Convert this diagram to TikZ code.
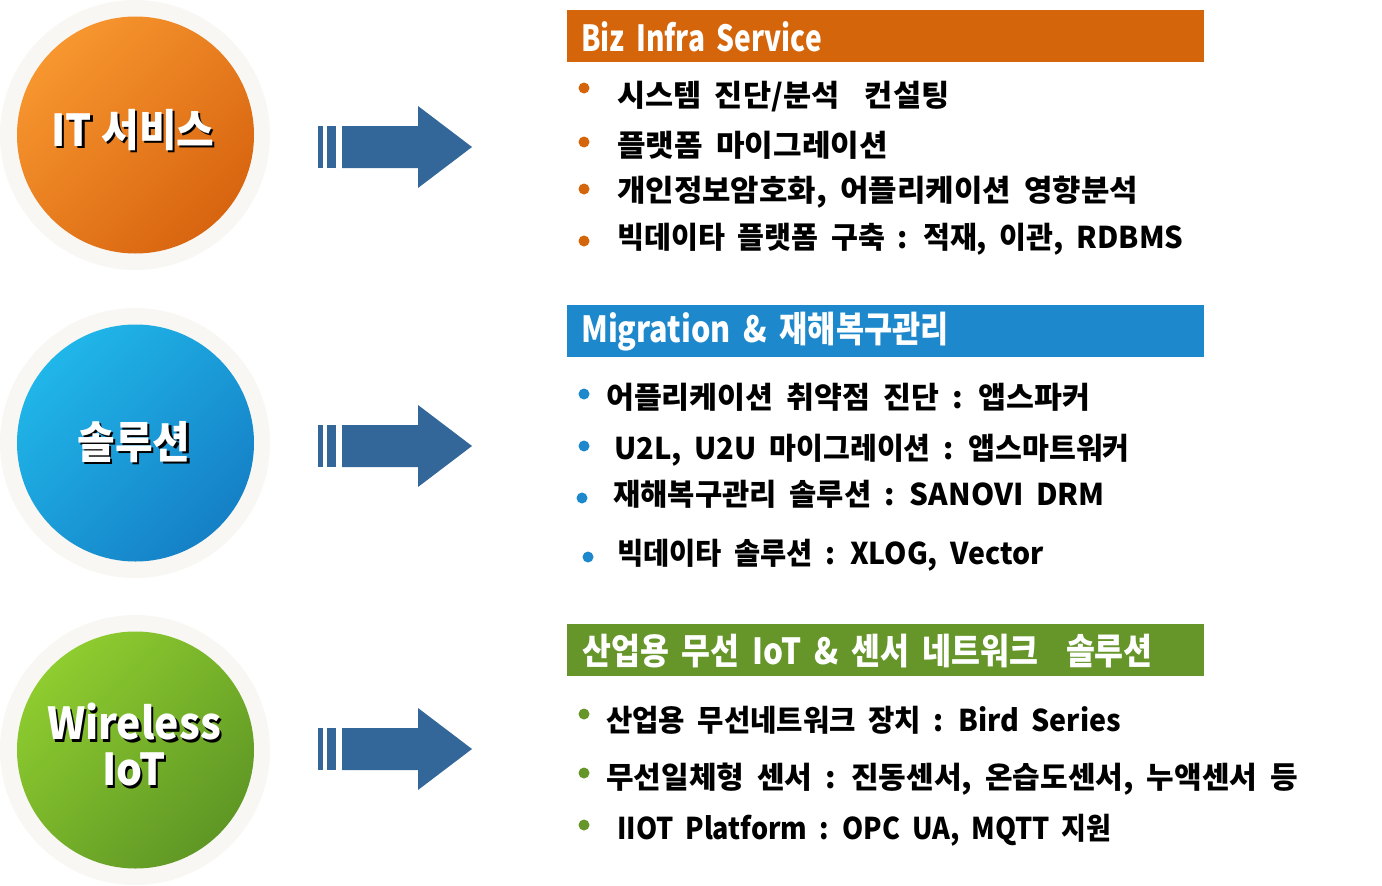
\documentclass[tikz,border=0pt]{standalone}
\usepackage{fontspec}
\usepackage{graphicx}
\newfontfamily\kr[WordSpace=1.9]{Noto Sans CJK KR}
\newfontfamily\krhead[FakeStretch=0.85,WordSpace=1.8]{Noto Sans CJK KR}
\newfontfamily\krtitle[FakeStretch=0.93]{Noto Sans CJK KR}
\newcommand\hsx[2]{\scalebox{#1}[1]{#2}}
\definecolor{halo}{HTML}{F8F7F3}
\definecolor{orL}{HTML}{F7962F}
\definecolor{orD}{HTML}{D8640F}
\definecolor{orBar}{HTML}{D4650A}
\definecolor{blL}{HTML}{20B6E9}
\definecolor{blD}{HTML}{1580C6}
\definecolor{blBar}{HTML}{1E88CC}
\definecolor{grL}{HTML}{8ECC2F}
\definecolor{grD}{HTML}{5F9725}
\definecolor{grBar}{HTML}{66962A}
\definecolor{arrowblue}{HTML}{336699}
\tikzset{
  halobox/.style={circle, fill=halo, minimum size=270pt, inner sep=0pt},
  ball/.style={circle, minimum size=237pt, inner sep=0pt},
  bar/.style={minimum width=637pt, minimum height=52pt, inner sep=0pt, anchor=north west},
  headtext/.style={anchor=west, inner sep=0pt, text=white, font=\krhead\bfseries\fontsize{36}{40}\selectfont},
  item/.style={anchor=west, inner sep=0pt, font=\kr\bfseries\fontsize{30}{34}\selectfont},
  bulletdot/.style={circle, inner sep=0pt, minimum size=11pt},
  title/.style={font=\krtitle\bfseries\fontsize{44}{46}\selectfont, text=white, align=center, inner sep=0pt},
  shadowtitle/.style={title, text=black, xshift=2.2pt, yshift=-2.2pt},
  blockarrow/.style={fill=arrowblue}
}
\begin{document}
\begin{tikzpicture}[x=1pt,y=-1pt]
\useasboundingbox (0,0) rectangle (1382,886);

% ---- circles
\node[halobox] (h1) at (135,135) {};
\node[ball, top color=orL, bottom color=orD, shading angle=45] (c1) at (135.5,135) {};
\node[halobox] (h2) at (135,443) {};
\node[ball, top color=blL, bottom color=blD, shading angle=45] (c2) at (135.5,443) {};
\node[halobox] (h3) at (135,750) {};
\node[ball, top color=grL, bottom color=grD, shading angle=45] (c3) at (135.5,750) {};

\node[shadowtitle] at (133,130) {IT 서비스};
\node[title] (t1) at (133,130) {IT 서비스};
\node[shadowtitle] at (134,442) {솔루션};
\node[title] (t2) at (134,442) {솔루션};
\node[shadowtitle] at (134,745) {Wireless\\IoT};
\node[title] (t3) at (134,745) {Wireless\\IoT};

% ---- arrows
\foreach \cy in {147,446,749} {
  \fill[blockarrow] (318,\cy-21) rectangle (323,\cy+21);
  \fill[blockarrow] (327,\cy-21) rectangle (336,\cy+21);
  \fill[blockarrow] (342,\cy-21) -- (418,\cy-21) -- (418,\cy-41) -- (472,\cy) -- (418,\cy+41) -- (418,\cy+21) -- (342,\cy+21) -- cycle;
}

% ---- header bars
\node[bar, fill=orBar] (b1) at (567,10) {};
\node[headtext] (bt1) at (581,37) {\hsx{0.92}{Biz Infra Service}};
\node[bar, fill=blBar] (b2) at (567,305) {};
\node[headtext] (bt2) at (581,332) {Migration \& 재해복구관리};
\node[bar, fill=grBar] (b3) at (567,624) {};
\node[headtext] (bt3) at (582,651) {\hsx{1.027}{산업용 무선 IoT \& 센서 네트워크\hspace{0.4em} 솔루션}};

% ---- section 1 items
\node[bulletdot, fill=orBar] (d11) at (584,88) {};
\node[item] (i11) at (617,97) {\hsx{1.02}{시스템 진단/분석\hspace{0.4em} 컨설팅}};
\node[bulletdot, fill=orBar] (d12) at (584,142) {};
\node[item] (i12) at (617,145) {\hsx{1.035}{플랫폼 마이그레이션}};
\node[bulletdot, fill=orBar] (d13) at (584,189) {};
\node[item] (i13) at (617,192) {\hsx{1.03}{개인정보암호화, 어플리케이션 영향분석}};
\node[bulletdot, fill=orBar] (d14) at (584,241) {};
\node[item] (i14) at (617,239) {\hsx{0.976}{빅데이타 플랫폼 구축 : 적재, 이관, RDBMS}};

% ---- section 2 items
\node[bulletdot, fill=blBar] (d21) at (584,394) {};
\node[item] (i21) at (606,397) {\hsx{1.01}{어플리케이션 취약점 진단 : 앱스파커}};
\node[bulletdot, fill=blBar] (d22) at (584,446) {};
\node[item] (i22) at (614,450) {\hsx{0.973}{U2L, U2U 마이그레이션 : 앱스마트워커}};
\node[bulletdot, fill=blBar] (d23) at (582,498) {};
\node[item] (i23) at (613,494) {\hsx{0.988}{재해복구관리 솔루션 : SANOVI DRM}};
\node[bulletdot, fill=blBar] (d24) at (588,557) {};
\node[item] (i24) at (617,555) {\hsx{0.95}{빅데이타 솔루션 : XLOG, Vector}};

% ---- section 3 items
\node[bulletdot, fill=grBar] (d31) at (584,714) {};
\node[item] (i31) at (606,720) {\hsx{0.955}{산업용 무선네트워크 장치 : Bird Series}};
\node[bulletdot, fill=grBar] (d32) at (584,773) {};
\node[item] (i32) at (606,779) {무선일체형 센서 : 진동센서, 온습도센서, 누액센서 등};
\node[bulletdot, fill=grBar] (d33) at (584,825) {};
\node[item] (i33) at (617,830) {\hsx{0.9}{IIOT Platform : OPC UA, MQTT 지원}};
\end{tikzpicture}
\end{document}
